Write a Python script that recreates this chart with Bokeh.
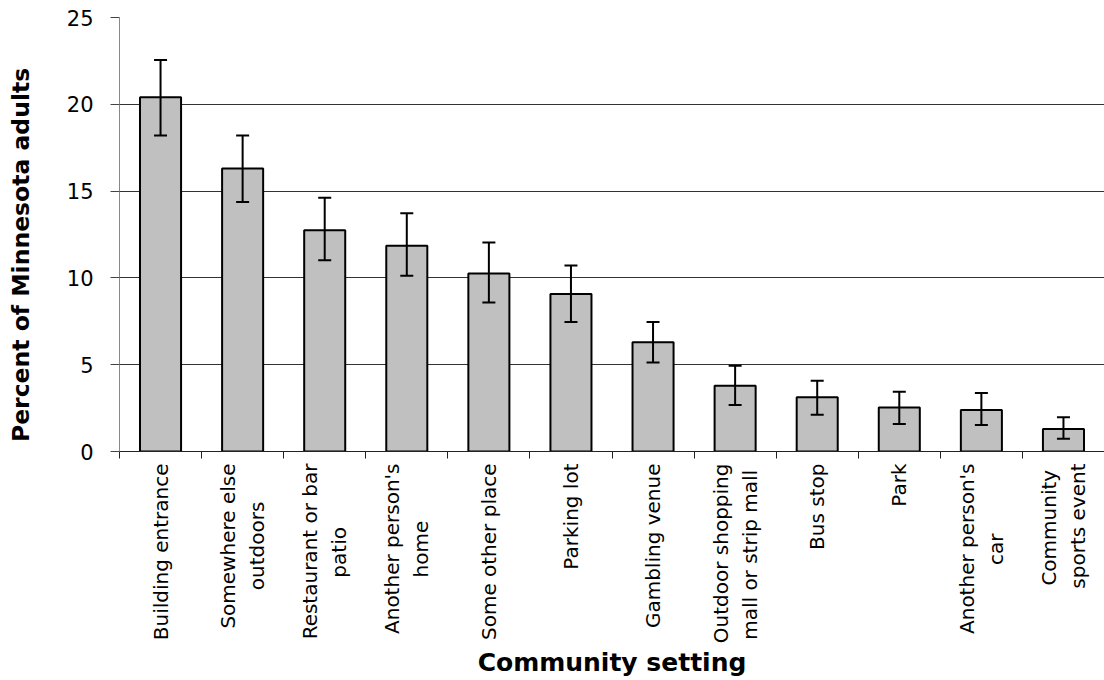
import math
from bokeh.plotting import figure
from bokeh.models import (ColumnDataSource, Range1d, LinearAxis,
                          FixedTicker, Whisker, TeeHead)
from bokeh.embed import file_html
from bokeh.resources import INLINE

NB = "\u00a0"
categories = ["Building entrance",
              "Somewhere else\noutdoors" + NB * 6,
              "Restaurant or bar\npatio" + NB * 10,
              "Another person's\nhome" + NB * 9,
              "Some other place", "Parking lot", "Gambling venue",
              "Outdoor shopping\nmall or strip mall" + NB,
              "Bus stop", "Park",
              "Another person's\ncar" + NB * 11,
              "Community" + NB + "\nsports event"]
percent = [20.4, 16.3, 12.75, 11.85, 10.25, 9.07, 6.3, 3.79, 3.12, 2.53, 2.39, 1.30]
err_low = [18.2, 14.37, 11.02, 10.13, 8.58, 7.46, 5.13, 2.68, 2.11, 1.59, 1.52, 0.73]
err_high = [22.55, 18.2, 14.62, 13.72, 12.04, 10.72, 7.46, 4.94, 4.08, 3.44, 3.37, 1.97]
y_ticks = [0, 5, 10, 15, 20, 25]

FONT = "DejaVu Sans"
n = len(categories)
centers = [i + 0.5 for i in range(n)]
boundaries = list(range(n + 1))

src = ColumnDataSource(dict(x=centers, top=percent, lower=err_low, upper=err_high))

p = figure(width=1104, height=680, x_range=Range1d(0, n),
           y_range=Range1d(0, 25), output_backend="svg", toolbar_location=None,
           x_axis_location=None, min_border_left=119, min_border_right=0,
           min_border_top=17, min_border_bottom=227)
p.outline_line_color = None
p.background_fill_color = "white"
p.border_fill_color = "white"

p.vbar(x="x", top="top", width=0.5, source=src, fill_color="#C0C0C0",
       line_color="black", line_width=2)

w = Whisker(source=src, base="x", lower="lower", upper="upper", line_color="black", line_width=2,
            upper_head=TeeHead(size=13, line_color="black", line_width=2),
            lower_head=TeeHead(size=13, line_color="black", line_width=2),
            level="overlay")
p.add_layout(w)

# y axis
ya = p.yaxis[0]
ya.ticker = FixedTicker(ticks=y_ticks)
ya.axis_line_color = "#888888"
ya.major_tick_line_color = "#444444"
ya.major_tick_out = 9
ya.major_tick_in = 0
ya.minor_tick_line_color = None
ya.major_label_text_font = FONT
ya.major_label_text_font_size = "21px"
ya.major_label_text_color = "black"
ya.major_label_standoff = 17
ya.axis_label = "Percent of Minnesota adults" + NB * 5
ya.axis_label_text_font = FONT
ya.axis_label_text_font_style = "bold"
ya.axis_label_text_font_size = "23.5px"
ya.axis_label_text_color = "black"
ya.axis_label_standoff = 29

p.xgrid.visible = False
p.ygrid.grid_line_color = "#333333"
p.ygrid.grid_line_width = 1
p.ygrid.ticker = FixedTicker(ticks=y_ticks)

# category axis: labels at bar centres, tick marks at slot boundaries
xa = LinearAxis(ticker=FixedTicker(ticks=centers, minor_ticks=boundaries),
                major_label_overrides={c: lab for c, lab in zip(centers, categories)})
xa.axis_line_color = "#222222"
xa.major_tick_line_color = None
xa.major_tick_out = 7
xa.major_tick_in = 0
xa.minor_tick_line_color = "#222222"
xa.minor_tick_out = 7
xa.minor_tick_in = 0
xa.major_label_orientation = math.pi / 2
xa.major_label_text_font = FONT
xa.major_label_text_font_size = "20px"
xa.major_label_text_color = "black"
xa.major_label_standoff = 5
xa.axis_label = "Community setting"
xa.axis_label_text_font = FONT
xa.axis_label_text_font_style = "bold"
xa.axis_label_text_font_size = "25px"
xa.axis_label_text_color = "black"
xa.axis_label_standoff = 2
p.add_layout(xa, "below")

open("out.html", "w").write(file_html(p, INLINE))
